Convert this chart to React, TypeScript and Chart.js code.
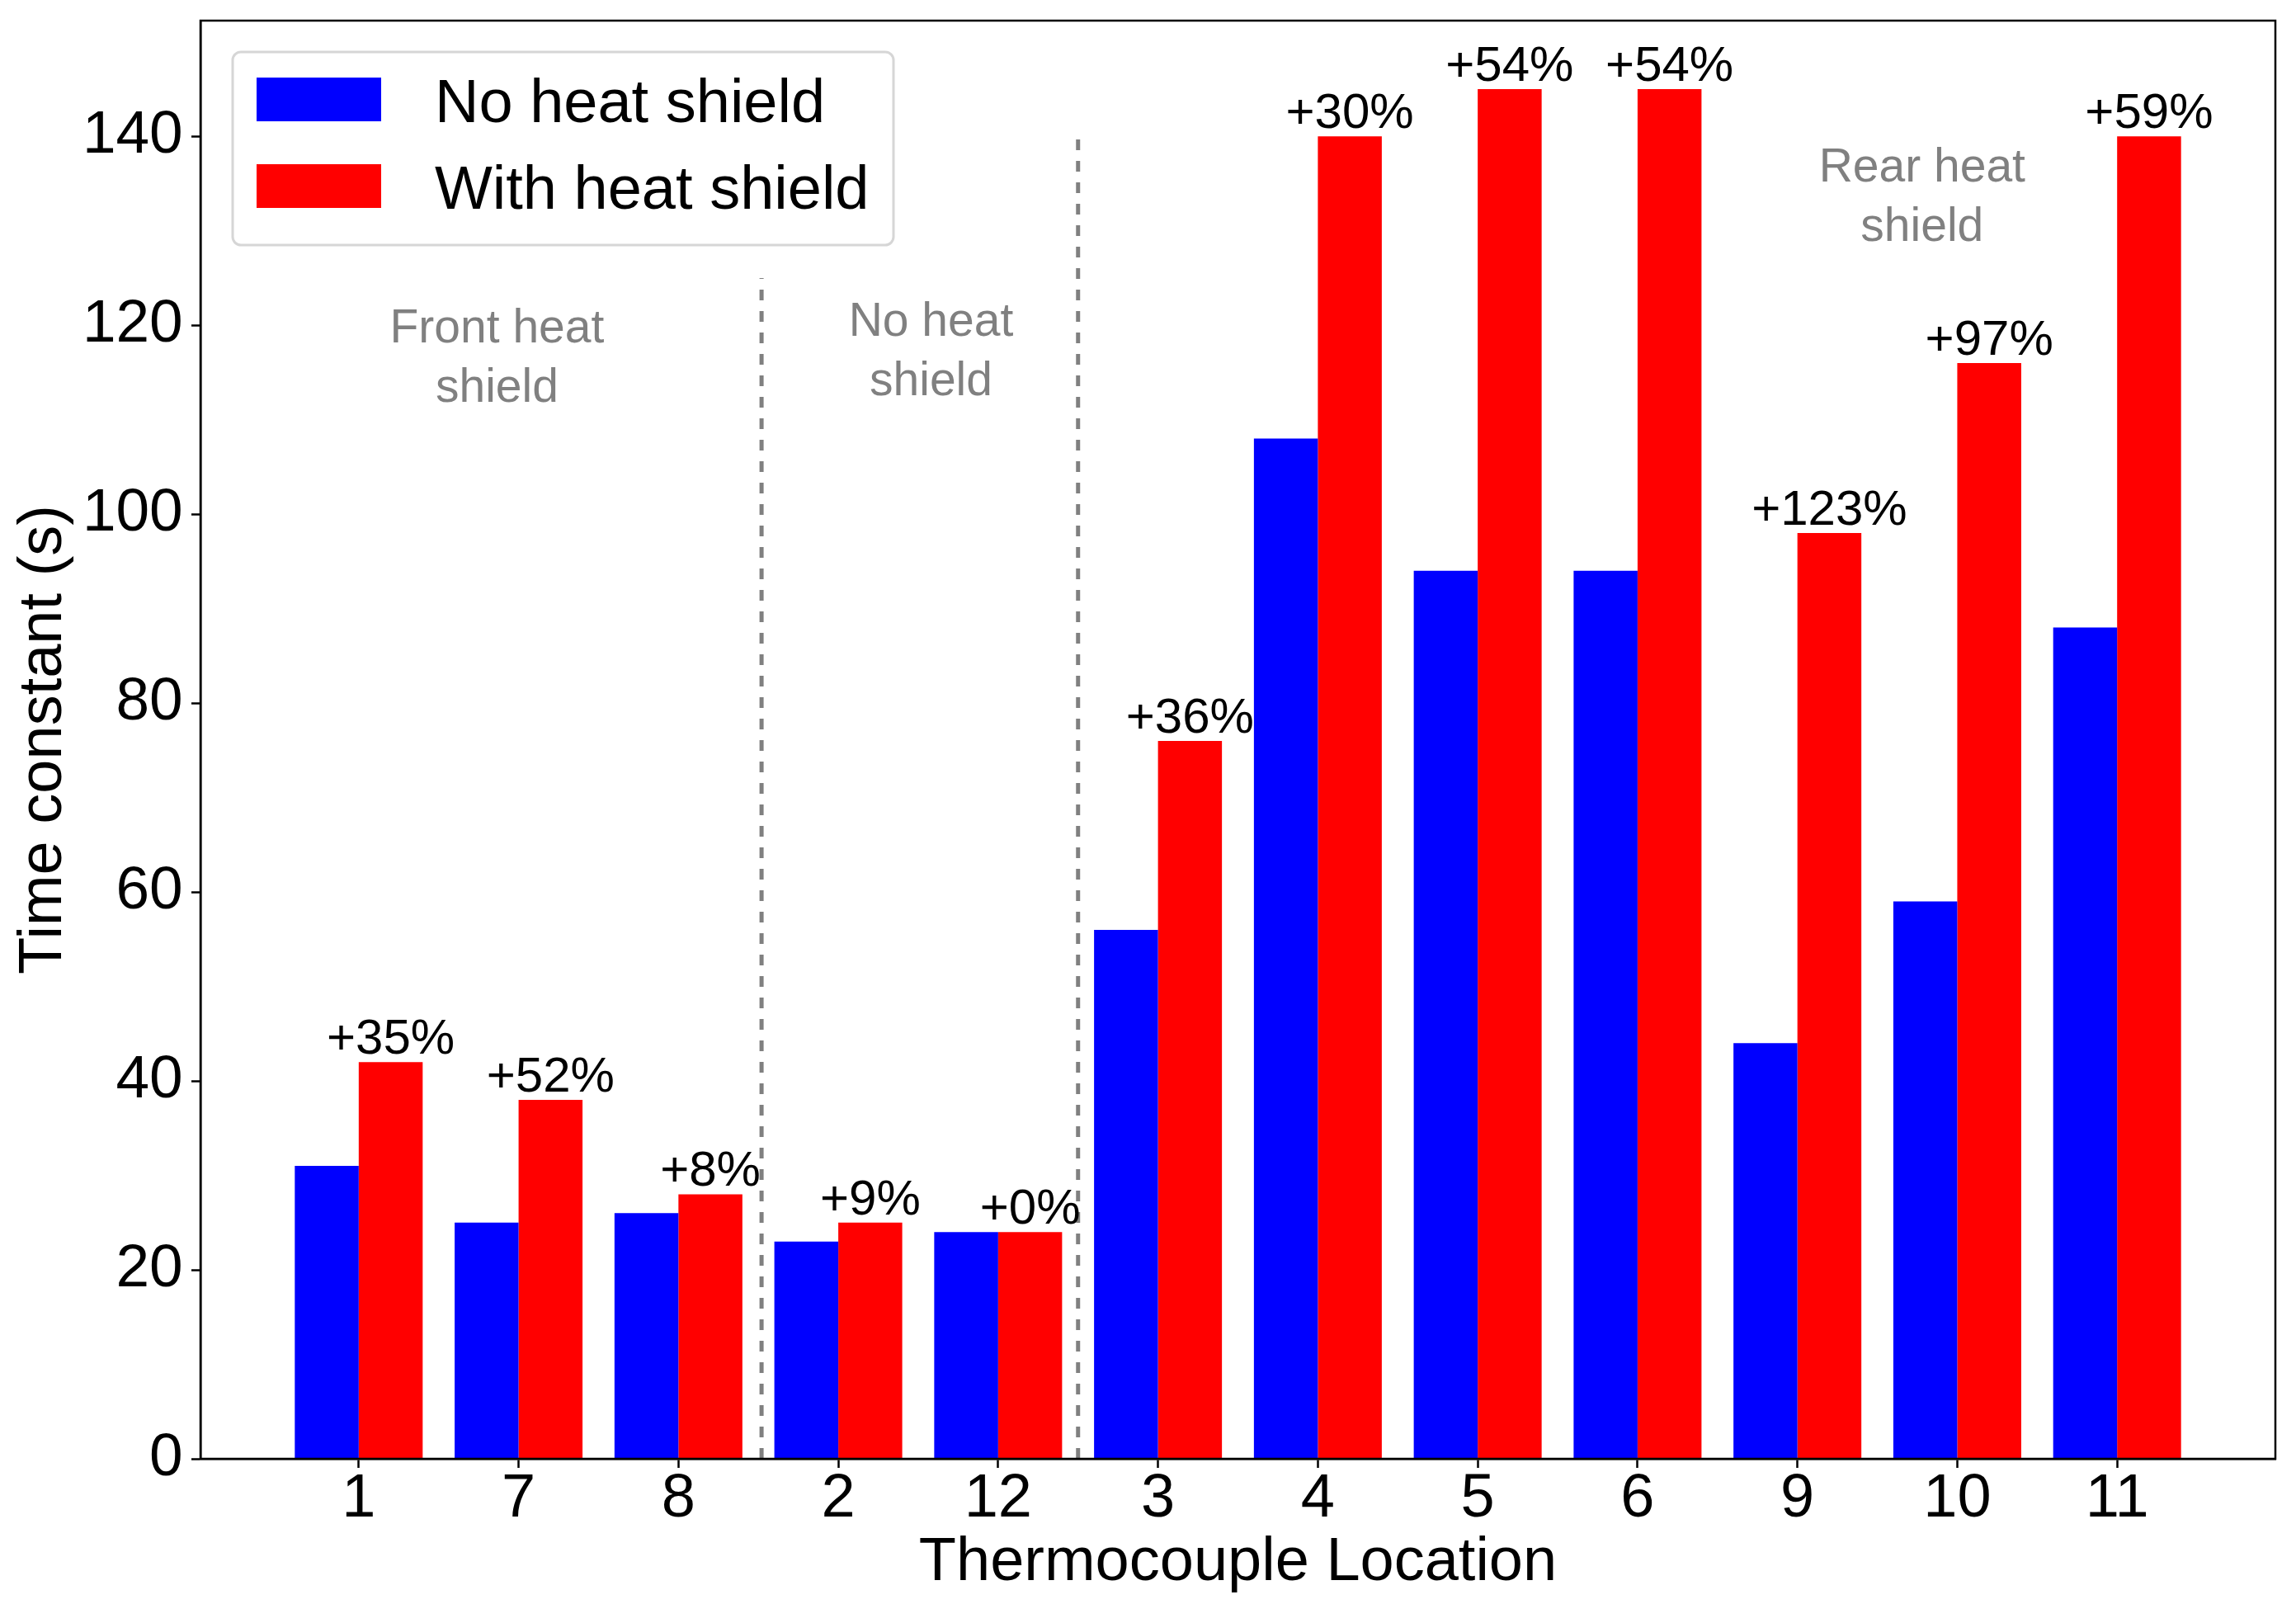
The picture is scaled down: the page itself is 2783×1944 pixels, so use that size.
import React, { useEffect, useRef } from 'react';
import { Chart, registerables } from 'chart.js';

Chart.register(...registerables);

// ---------- data ----------
const categories = ['1', '7', '8', '2', '12', '3', '4', '5', '6', '9', '10', '11'];
const noShield = [31, 25, 26, 23, 24, 56, 108, 94, 94, 44, 59, 88];
const withShield = [42, 38, 28, 25, 24, 76, 140, 145, 145, 98, 116, 140];
const percentLabels = ['+35%', '+52%', '+8%', '+9%', '+0%', '+36%', '+30%', '+54%', '+54%', '+123%', '+97%', '+59%'];
const seriesNames = ['No heat shield', 'With heat shield'];
const yTicks = [0, 20, 40, 60, 80, 100, 120, 140];
const xRange = [-0.99, 11.99];
const yRange = [0, 152.25];
const dividerX = [2.52, 4.5];
const dividerTop = [125, 140];
const groupLabels = ['Front heat\nshield', 'No heat\nshield', 'Rear heat\nshield'];
const groupX = [0.865, 3.58, 9.78];
const groupY = [118.2, 118.9, 135.2];

const FONT = "'Liberation Sans', Arial, Helvetica, sans-serif";
const W = 2783;
const H = 1944;

const annotationsPlugin = {
  id: 'annotations',
  afterDatasetsDraw(chart: any) {
    const ctx = chart.ctx as CanvasRenderingContext2D;
    const xs = chart.scales.x;
    const ys = chart.scales.y;
    const ca = chart.chartArea;
    ctx.save();

    // dashed dividers
    ctx.strokeStyle = '#808080';
    ctx.lineWidth = 5;
    ctx.setLineDash([13, 13]);
    dividerX.forEach((v, i) => {
      const px = xs.getPixelForValue(v);
      ctx.beginPath();
      ctx.moveTo(px, ys.getPixelForValue(0));
      ctx.lineTo(px, ys.getPixelForValue(dividerTop[i]));
      ctx.stroke();
    });
    ctx.setLineDash([]);

    // group labels
    ctx.fillStyle = '#808080';
    ctx.font = `57px ${FONT}`;
    ctx.textAlign = 'center';
    ctx.textBaseline = 'alphabetic';
    groupLabels.forEach((t, i) => {
      const px = xs.getPixelForValue(groupX[i]);
      const py = ys.getPixelForValue(groupY[i]);
      t.split('\n').forEach((line, k) => ctx.fillText(line, px, py + k * 72));
    });

    // percent labels above red bars
    const meta = chart.getDatasetMeta(1);
    ctx.fillStyle = '#000000';
    ctx.font = `60px ${FONT}`;
    meta.data.forEach((bar: any, i: number) => {
      ctx.fillText(percentLabels[i], bar.x, bar.y - 10);
    });

    // frame (spines)
    ctx.strokeStyle = '#000000';
    ctx.lineWidth = 2.5;
    ctx.strokeRect(ca.left, ca.top, ca.right - ca.left, ca.bottom - ca.top);

    // legend
    const lx = ca.left + 39;
    const ly = ca.top + 38;
    const lw = 801;
    const lh = 234;
    ctx.beginPath();
    if ((ctx as any).roundRect) {
      (ctx as any).roundRect(lx, ly, lw, lh, 10);
    } else {
      ctx.rect(lx, ly, lw, lh);
    }
    ctx.fillStyle = 'rgba(255,255,255,0.8)';
    ctx.fill();
    ctx.strokeStyle = '#d6d6d6';
    ctx.lineWidth = 3;
    ctx.stroke();

    ctx.font = `74px ${FONT}`;
    ctx.textAlign = 'left';
    ctx.textBaseline = 'alphabetic';
    chart.data.datasets.forEach((ds: any, i: number) => {
      const hy = ly + 31 + i * 105;
      ctx.fillStyle = ds.backgroundColor;
      ctx.fillRect(lx + 29, hy, 151, 53);
      ctx.fillStyle = '#000000';
      ctx.fillText(ds.label, lx + 245, hy + 54);
    });

    ctx.restore();
  },
};

export default function App() {
  const canvasRef = useRef<HTMLCanvasElement | null>(null);

  useEffect(() => {
    document.body.style.margin = '0';
    const canvas = canvasRef.current;
    if (!canvas) return;

    const chart = new Chart(canvas, {
      type: 'bar',
      data: {
        datasets: [
          {
            label: seriesNames[0],
            data: noShield.map((v, i) => ({ x: i, y: v })),
            backgroundColor: '#0000ff',
            borderWidth: 0,
          },
          {
            label: seriesNames[1],
            data: withShield.map((v, i) => ({ x: i, y: v })),
            backgroundColor: '#ff0000',
            borderWidth: 0,
          },
        ],
      },
      options: {
        responsive: false,
        animation: false,
        devicePixelRatio: 1,
        datasets: {
          bar: {
            categoryPercentage: 0.8,
            barPercentage: 1.0,
          },
        },
        layout: { padding: { top: 25, right: 25, left: 0, bottom: 0 } },
        plugins: {
          legend: { display: false },
          tooltip: { enabled: false },
        },
        scales: {
          x: {
            type: 'linear',
            min: xRange[0],
            max: xRange[1],
            offset: false,
            grid: {
              offset: false,
              drawOnChartArea: false,
              drawTicks: true,
              tickLength: 11,
              tickWidth: 2.5,
              tickColor: '#000000',
            },
            border: { display: true, color: '#000000', width: 2.5 },
            ticks: {
              autoSkip: false,
              maxRotation: 0,
              minRotation: 0,
              color: '#000000',
              padding: 1.5,
              font: { family: FONT, size: 74, lineHeight: 1 },
              callback: (value: any) => categories[Number(value)] ?? '',
            },
            title: {
              display: true,
              text: 'Thermocouple Location',
              color: '#000000',
              font: { family: FONT, size: 74, lineHeight: 1.2 },
              padding: { top: 0, bottom: 4.6 },
            },
            afterBuildTicks: (scale: any) => {
              scale.ticks = categories.map((_, i) => ({ value: i }));
            },
            afterFit: (scale: any) => {
              scale.height = 176;
              scale.paddingLeft = 0;
              scale.paddingRight = 0;
            },
          },
          y: {
            type: 'linear',
            min: yRange[0],
            max: yRange[1],
            grid: {
              drawOnChartArea: false,
              drawTicks: true,
              tickLength: 11,
              tickWidth: 2.5,
              tickColor: '#000000',
            },
            border: { display: true, color: '#000000', width: 2.5 },
            ticks: {
              color: '#000000',
              padding: 10.3,
              font: { family: FONT, size: 73, lineHeight: 1 },
            },
            title: {
              display: true,
              text: 'Time constant (s)',
              color: '#000000',
              font: { family: FONT, size: 74, lineHeight: 1.2 },
              padding: { top: 9, bottom: 0 },
            },
            afterBuildTicks: (scale: any) => {
              scale.ticks = yTicks.map((v) => ({ value: v }));
            },
            afterFit: (scale: any) => {
              scale.width = 243;
              scale.paddingTop = 0;
              scale.paddingBottom = 0;
            },
          },
        },
      } as any,
      plugins: [annotationsPlugin],
    });

    return () => {
      chart.destroy();
    };
  }, []);

  return (
    <div style={{ width: W, height: H, background: '#ffffff' }}>
      <canvas ref={canvasRef} width={W} height={H} style={{ display: 'block', width: W, height: H }} />
    </div>
  );
}
